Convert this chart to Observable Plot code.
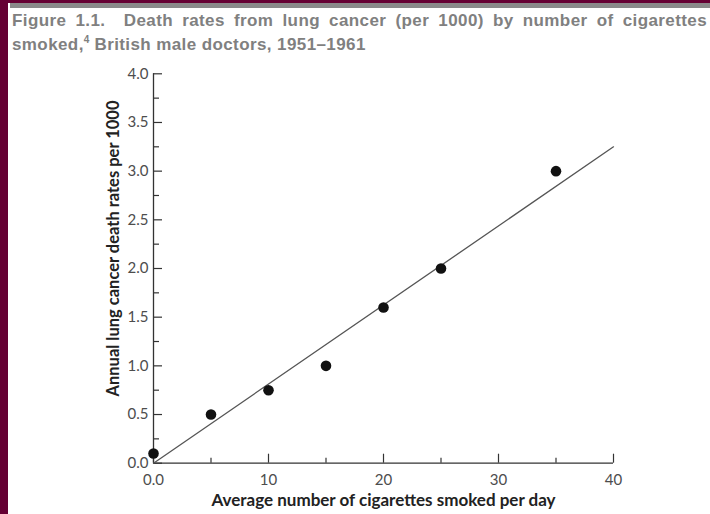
<!DOCTYPE html>
<html>
<head>
<meta charset="utf-8">
<script src="https://cdn.jsdelivr.net/npm/d3@7"></script>
<script src="https://cdn.jsdelivr.net/npm/@observablehq/plot@0.6"></script>
<style>
  html, body { margin: 0; padding: 0; background: #fff; }
  #page { position: relative; width: 710px; height: 514px; overflow: hidden; background: #fff; }
  #leftbar { position: absolute; left: 0; top: 0; width: 8px; height: 514px; background: #650033; }
  #topbar { position: absolute; left: 0; top: 0; width: 710px; height: 3px; background: #650033; }
  #graybar { position: absolute; left: 10px; top: 3px; width: 700px; height: 5px; background: #8a8a8a; }
  .tline { position: absolute; left: 12px; width: 695px; font-family: "Liberation Sans", Arial, sans-serif; font-weight: bold; font-size: 17px; line-height: 24px; color: #808080; letter-spacing: 0.4px; white-space: nowrap; }
  #t1 { top: 9px; text-align: justify; text-align-last: justify; white-space: normal; }
  #t2 { top: 33px; }
  .tline sup { font-size: 10px; line-height: 0; letter-spacing: 0; }
  #chart { position: absolute; left: 8px; top: 60px; }
</style>
</head>
<body>
<div id="page">
  <div id="leftbar"></div>
  <div id="topbar"></div>
  <div id="graybar"></div>
  <div id="t1" class="tline">Figure 1.1.&nbsp; Death rates from lung cancer (per 1000) by number of cigarettes</div>
  <div id="t2" class="tline">smoked,<sup>4</sup> British male doctors, 1951–1961</div>
  <div id="chart"></div>
</div>
<script>
const cigarettes = [0, 5, 10, 15, 20, 25, 35];
const deathRates = [0.1, 0.5, 0.75, 1.0, 1.6, 2.0, 3.0];
const fitX = [0, 40];
const fitY = [0, 3.25];
const xMajor = [0, 10, 20, 30, 40];
const xMinor = [5, 15, 25, 35];
const yMajor = [0, 0.5, 1, 1.5, 2, 2.5, 3, 3.5, 4];
const yMinor = [0.25, 0.75, 1.25, 1.75, 2.25, 2.75, 3.25, 3.75];
const xTitle = "Average number of cigarettes smoked per day";
const yTitle = "Annual lung cancer death rates per 1000";

const points = cigarettes.map((c, i) => ({x: c, y: deathRates[i]}));
const fit = fitX.map((x, i) => ({x, y: fitY[i]}));

const axisColor = "#333";
const labelColor = "#4d4d4d";
const tickFont = {fontSize: 15, fontFamily: "Lato, 'Open Sans', sans-serif"};

const chart = Plot.plot({
  width: 702,
  height: 454,
  marginLeft: 145,
  marginRight: 97,
  marginTop: 13.3,
  marginBottom: 51.3,
  style: {background: "transparent", fontFamily: "Lato, sans-serif", fontSize: "15px", overflow: "visible"},
  x: {domain: [0, 40]},
  y: {domain: [0, 4]},
  marks: [
    // tick marks (inward)
    Plot.axisY({ticks: yMajor, tickSize: -9, tickFormat: () => "", label: null, stroke: axisColor, strokeWidth: 1.2}),
    Plot.axisY({ticks: yMinor, tickSize: -6, tickFormat: () => "", label: null, stroke: axisColor, strokeWidth: 1.2}),
    Plot.axisX({ticks: xMajor, tickSize: -9, tickFormat: () => "", label: null, stroke: axisColor, strokeWidth: 1.2}),
    Plot.axisX({ticks: xMinor, tickSize: -5, tickFormat: () => "", label: null, stroke: axisColor, strokeWidth: 1.2}),
    // tick labels
    Plot.axisY({ticks: yMajor, tickSize: 0, tickPadding: 5, tickFormat: d3.format(".1f"), label: null, fill: labelColor, ...tickFont}),
    Plot.axisX({ticks: xMajor, tickSize: 0, tickPadding: 11, tickFormat: d => d === 0 ? "0.0" : String(d), label: null, fill: labelColor, ...tickFont}),
    // axis lines
    Plot.ruleX([0], {y1: 0, y2: 4, stroke: axisColor, strokeWidth: 1.3}),
    Plot.ruleY([0], {x1: 0, x2: 40, stroke: axisColor, strokeWidth: 1.3}),
    // fitted line
    Plot.line(fit, {x: "x", y: "y", stroke: "#555", strokeWidth: 1.3}),
    // data points
    Plot.dot(points, {x: "x", y: "y", r: 5.3, fill: "#111", stroke: null}),
    // axis titles
    Plot.text([xTitle], {frameAnchor: "bottom", dy: 43, text: d => d, fontWeight: "bold", fontSize: 17, fill: "#222", fontFamily: "Lato, sans-serif"}),
    Plot.text([yTitle], {frameAnchor: "left", textAnchor: "middle", dx: -40, dy: -20, rotate: -90, text: d => d, fontWeight: "bold", fontSize: 16.5, fill: "#222", fontFamily: "Lato, sans-serif"})
  ]
});
document.getElementById("chart").appendChild(chart);
</script>
</body>
</html>
